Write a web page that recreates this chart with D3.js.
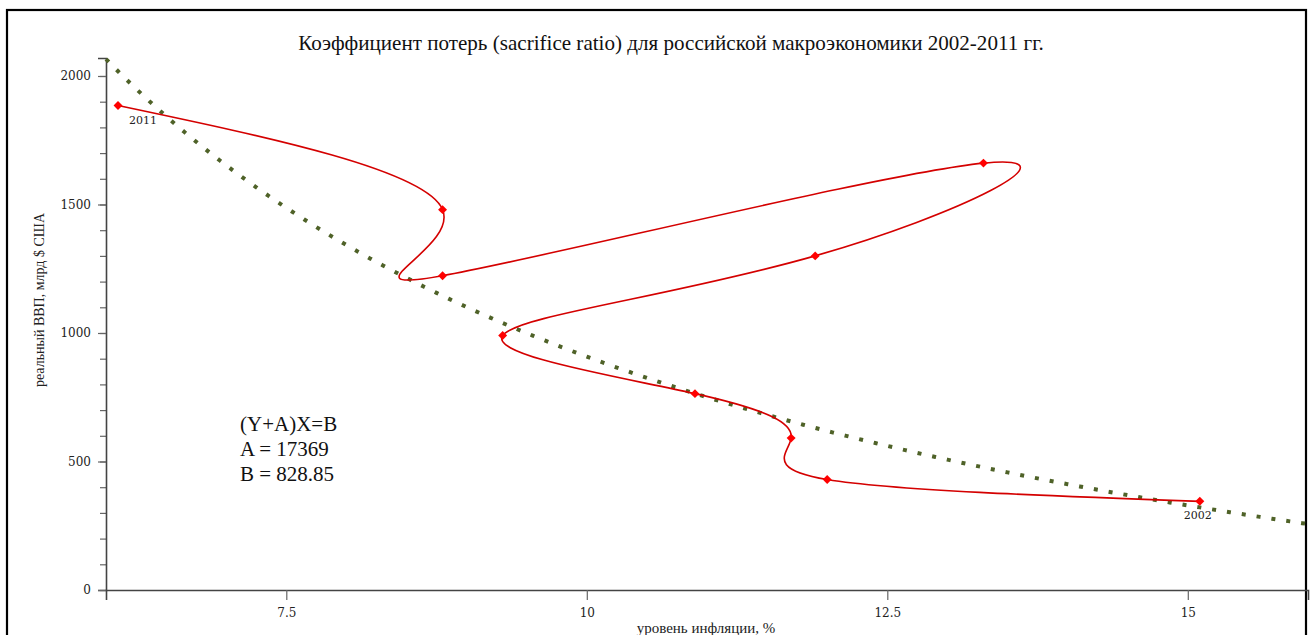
<!DOCTYPE html>
<html>
<head>
<meta charset="utf-8">
<script src="https://cdn.jsdelivr.net/npm/d3@7"></script>
<style>
  html, body { margin: 0; padding: 0; background: #fff; }
  svg { display: block; }
</style>
</head>
<body>
<svg id="chart" width="1310" height="635"></svg>
<script>
// Inflation (%) vs real GDP (bn USD), Russia 2002-2011
const years = [2002, 2003, 2004, 2005, 2006, 2007, 2008, 2009, 2010, 2011];
const inflation = [15.1, 12.0, 11.7, 10.9, 9.3, 11.9, 13.3, 8.8, 8.8, 6.1];
const gdp = [345, 430, 591, 764, 990, 1300, 1661, 1223, 1480, 1885];

// Fitted hyperbola: (Y + B) X = A  ->  Y = A / X - B
const coefA = 17369;
const coefB = 828.85;

const xTicks = [7.5, 10, 12.5, 15];
const xTickLabels = ["7.5", "10", "12.5", "15"];
const yTicks = [0, 500, 1000, 1500, 2000];
const yMinorStep = 100;

const titleText = "Коэффициент потерь (sacrifice ratio) для российской макроэкономики 2002-2011 гг.";
const xTitle = "уровень инфляции, %";
const yTitle = "реальный ВВП, млрд $ США";
const formulaLines = ["(Y+A)X=B", "A = " + coefA, "B = " + coefB];
const labelledYears = [2011, 2002];

const svg = d3.select("#chart");

// frame
svg.append("rect")
  .attr("x", 7).attr("y", 10).attr("width", 1299).attr("height", 640)
  .attr("fill", "#fff").attr("stroke", "#000").attr("stroke-width", 2.2);

const x = d3.scaleLinear().domain([6, 16]).range([106, 1308]);
const y = d3.scaleLinear().domain([0, 2070]).range([590, 58]);

// title
const title = svg.append("text")
  .attr("x", 671).attr("y", 50)
  .attr("text-anchor", "middle")
  .attr("font-family", "Liberation Serif, serif")
  .attr("font-size", 20)
  .attr("fill", "#111")
  .text(titleText);
const tw = title.node().getComputedTextLength();
title.attr("font-size", 20 * 746 / tw);

// y axis with minor ticks
const yAxisG = svg.append("g").attr("transform", `translate(${x(6)},0)`);
yAxisG.call(d3.axisLeft(y).tickValues(d3.range(0, 2001, yMinorStep)).tickSize(6).tickFormat(""));
yAxisG.selectAll(".tick line").attr("stroke", "#666").attr("stroke-width", 1.2);
yAxisG.select(".domain").remove();
const yMajor = svg.append("g").attr("transform", `translate(${x(6)},0)`);
yMajor.call(d3.axisLeft(y).tickValues(yTicks).tickSize(8).tickPadding(7).tickFormat(d3.format("d")));
yMajor.select(".domain").attr("stroke", "#444").attr("stroke-width", 1.6);
yMajor.selectAll(".tick line").attr("stroke", "#666").attr("stroke-width", 1.2);
yMajor.selectAll(".tick text")
  .attr("font-family", "DejaVu Serif, serif").attr("font-size", 12).attr("fill", "#222");

// x axis
const xAxisG = svg.append("g").attr("transform", `translate(0,${y(0)})`);
xAxisG.call(d3.axisBottom(x).tickValues(xTicks).tickSize(10).tickPadding(8)
  .tickFormat((d, i) => xTickLabels[i]));
xAxisG.select(".domain").attr("stroke", "#444").attr("stroke-width", 1.6);
xAxisG.selectAll(".tick line").attr("stroke", "#666").attr("stroke-width", 1.2);
xAxisG.selectAll(".tick text")
  .attr("font-family", "DejaVu Serif, serif").attr("font-size", 12).attr("fill", "#222");

// axis titles
svg.append("text")
  .attr("x", 706).attr("y", 633)
  .attr("text-anchor", "middle")
  .attr("font-family", "Liberation Serif, serif")
  .attr("font-size", 15).attr("fill", "#222")
  .text(xTitle);
svg.append("text")
  .attr("transform", "translate(44,300) rotate(-90)")
  .attr("text-anchor", "middle")
  .attr("font-family", "Liberation Serif, serif")
  .attr("font-size", 14).attr("fill", "#222")
  .text(yTitle);

// trend curve
const trendX = d3.range(6, 16.0001, 0.05);
const trendLine = d3.line()
  .x(d => x(d))
  .y(d => y(coefA / d - coefB));
svg.append("path")
  .attr("d", trendLine(trendX))
  .attr("fill", "none")
  .attr("stroke", "#4f6228")
  .attr("stroke-width", 4)
  .attr("stroke-dasharray", "4,11");

// data path
const pts = years.map((yr, i) => ({ year: yr, inf: inflation[i], gdp: gdp[i] }));
const dataLine = d3.line()
  .x(d => x(d.inf))
  .y(d => y(d.gdp))
  .curve(d3.curveNatural);
svg.append("path")
  .attr("d", dataLine(pts))
  .attr("fill", "none")
  .attr("stroke", "#d40000")
  .attr("stroke-width", 1.6);

// markers: square diamonds
svg.selectAll("path.marker")
  .data(pts)
  .enter().append("path")
  .attr("class", "marker")
  .attr("transform", d => `translate(${x(d.inf)},${y(d.gdp)}) rotate(45)`)
  .attr("d", d3.symbol().type(d3.symbolSquare).size(40))
  .attr("fill", "#ff0000");

// year labels at the ends
const yearLabelOffset = { 2011: [11, 18], 2002: [-16, 18] };
svg.selectAll("text.yr")
  .data(pts.filter(d => labelledYears.includes(d.year)))
  .enter().append("text")
  .attr("class", "yr")
  .attr("x", d => x(d.inf) + yearLabelOffset[d.year][0])
  .attr("y", d => y(d.gdp) + yearLabelOffset[d.year][1])
  .attr("font-family", "DejaVu Serif, serif")
  .attr("font-size", 11).attr("fill", "#222")
  .text(d => d.year);

// formula block
svg.append("g").selectAll("text")
  .data(formulaLines)
  .enter().append("text")
  .attr("x", 240)
  .attr("y", (d, i) => 431 + i * 25)
  .attr("font-family", "Liberation Serif, serif")
  .attr("font-size", 21)
  .attr("fill", "#111")
  .text(d => d);
</script>
</body>
</html>
